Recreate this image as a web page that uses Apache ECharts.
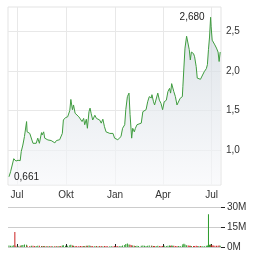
<!DOCTYPE html>
<html>
<head>
<meta charset="utf-8">
<script src="https://cdn.jsdelivr.net/npm/echarts@6/dist/echarts.min.js"></script>
<style>
  html, body { margin: 0; padding: 0; background: #fff; }
  #chart { width: 264px; height: 255px; }
</style>
</head>
<body>
<div id="chart"></div>
<script>
// price samples (EUR)
const dates = [
  '2024-06-16', '2024-06-19', '2024-06-22', '2024-06-25', '2024-06-27', '2024-06-29', '2024-07-03', '2024-07-07', '2024-07-09', '2024-07-12',
  '2024-07-15', '2024-07-19', '2024-07-20', '2024-07-25', '2024-07-28', '2024-07-31', '2024-08-03', '2024-08-06', '2024-08-09', '2024-08-12',
  '2024-08-16', '2024-08-17', '2024-08-20', '2024-08-22', '2024-08-25', '2024-08-28', '2024-08-31', '2024-09-03', '2024-09-06', '2024-09-10',
  '2024-09-13', '2024-09-16', '2024-09-19', '2024-09-21', '2024-09-24', '2024-09-26', '2024-09-30', '2024-10-04', '2024-10-08', '2024-10-10',
  '2024-10-13', '2024-10-15', '2024-10-18', '2024-10-21', '2024-10-25', '2024-10-28', '2024-10-31', '2024-11-03', '2024-11-05', '2024-11-08',
  '2024-11-10', '2024-11-13', '2024-11-15', '2024-11-17', '2024-11-20', '2024-11-24', '2024-11-27', '2024-11-30', '2024-12-03', '2024-12-06',
  '2024-12-09', '2024-12-12', '2024-12-15', '2024-12-18', '2024-12-22', '2024-12-25', '2024-12-28', '2024-12-31', '2025-01-03', '2025-01-06',
  '2025-01-09', '2025-01-12', '2025-01-15', '2025-01-19', '2025-01-21', '2025-01-24', '2025-01-27', '2025-01-29', '2025-02-01', '2025-02-03',
  '2025-02-06', '2025-02-08', '2025-02-11', '2025-02-14', '2025-02-19', '2025-02-22', '2025-02-25', '2025-02-28', '2025-03-03', '2025-03-06',
  '2025-03-10', '2025-03-11', '2025-03-14', '2025-03-16', '2025-03-19', '2025-03-22', '2025-03-25', '2025-03-28', '2025-03-31', '2025-04-03',
  '2025-04-07', '2025-04-10', '2025-04-13', '2025-04-15', '2025-04-17', '2025-04-19', '2025-04-21', '2025-04-24', '2025-04-27', '2025-04-30',
  '2025-05-03', '2025-05-07', '2025-05-08', '2025-05-10', '2025-05-12', '2025-05-15', '2025-05-18', '2025-05-20', '2025-05-22', '2025-05-24',
  '2025-05-28', '2025-05-30', '2025-06-02', '2025-06-04', '2025-06-07', '2025-06-10', '2025-06-13', '2025-06-17', '2025-06-21', '2025-06-23',
  '2025-06-25', '2025-06-27', '2025-06-29', '2025-06-30', '2025-07-02', '2025-07-04', '2025-07-07', '2025-07-10', '2025-07-13', '2025-07-15',
  '2025-07-17'
];
const prices = [
  0.661, 0.725, 0.747, 0.89, 0.865, 0.86, 0.87, 0.865, 0.98, 1.063,
  1.17, 1.36, 1.23, 1.21, 1.21, 1.085, 1.076, 1.085, 1.15, 1.085,
  1.22, 1.19, 1.23, 1.15, 1.17, 1.127, 1.13, 1.12, 1.13, 1.09,
  1.12, 1.11, 1.13, 1.11, 1.21, 1.38, 1.41, 1.42, 1.50, 1.64,
  1.51, 1.57, 1.465, 1.45, 1.42, 1.40, 1.36, 1.40, 1.32, 1.39,
  1.275, 1.485, 1.53, 1.465, 1.38, 1.44, 1.40, 1.42, 1.38, 1.34,
  1.39, 1.295, 1.23, 1.21, 1.21, 1.23, 1.21, 1.15, 1.14, 1.13,
  1.15, 1.17, 1.275, 1.32, 1.51, 1.675, 1.72, 1.45, 1.15, 1.275,
  1.23, 1.275, 1.32, 1.32, 1.34, 1.485, 1.51, 1.51, 1.61, 1.675,
  1.66, 1.70, 1.61, 1.57, 1.57, 1.72, 1.63, 1.59, 1.51, 1.61,
  1.63, 1.74, 1.78, 1.72, 1.84, 1.865, 1.74, 1.675, 1.57, 1.57,
  1.655, 1.675, 1.80, 2.05, 2.29, 2.44, 2.43, 2.27, 2.14, 2.24,
  2.22, 2.18, 2.055, 1.91, 1.91, 1.895, 1.92, 1.99, 2.03, 2.08,
  2.27, 2.43, 2.68, 2.56, 2.39, 2.37, 2.33, 2.29, 2.24, 2.12,
  2.24
];
// volume in millions, same dates
const volumes = [
  1.2, 0.9, 1.0, 1.4, 11.2, 1.0, 0.8, 0.9, 1.3, 1.5,
  1.8, 1.6, 1.0, 0.8, 0.9, 0.9, 0.7, 0.8, 0.9, 1.0,
  0.8, 0.7, 0.8, 0.7, 0.6, 0.7, 0.6, 0.7, 0.6, 0.7,
  0.6, 0.7, 0.6, 0.8, 1.2, 1.4, 1.0, 0.9, 1.3, 1.6,
  1.1, 0.9, 0.8, 0.7, 0.7, 0.8, 0.7, 0.8, 0.7, 0.9,
  1.0, 1.2, 0.9, 0.8, 0.7, 0.8, 0.7, 0.6, 0.7, 0.7,
  0.6, 0.7, 0.7, 0.6, 0.5, 0.6, 0.6, 0.7, 0.6, 0.7,
  0.6, 0.8, 1.2, 1.5, 2.2, 2.6, 1.8, 1.6, 1.4, 1.2,
  0.9, 0.8, 0.9, 0.8, 0.9, 1.2, 1.0, 0.8, 1.0, 1.1,
  0.9, 1.0, 0.8, 0.7, 0.8, 1.0, 0.8, 0.7, 0.8, 0.9,
  0.8, 1.0, 1.1, 0.9, 1.1, 1.0, 0.9, 0.8, 0.8, 0.7,
  0.8, 0.9, 2.0, 2.4, 1.8, 1.4, 1.1, 1.0, 0.9, 0.8,
  0.8, 0.8, 0.9, 0.8, 0.7, 0.7, 0.8, 0.8, 0.9, 1.1,
  24.6, 1.6, 1.9, 1.5, 1.2, 1.1, 1.0, 0.9, 1.0, 1.1,
  0.9
];
const tickDates = ['2024-07-01', '2024-10-01', '2025-01-01', '2025-04-01', '2025-07-01'];
const tickLabels = ['Jul', 'Okt', 'Jan', 'Apr', 'Jul'];
const priceTicks = [1.0, 1.5, 2.0, 2.5];

const up = '#2a9a2a';
const down = '#cc2222';
const font = 'Arial, "Liberation Sans", sans-serif';

const toTime = (d) => +echarts.time.parse(d);
const times = dates.map(toTime);
const tickTimes = tickDates.map(toTime);
const xMin = toTime('2024-06-14T04:00:00');
const xMax = toTime('2025-07-18T12:00:00');
const comma = (v, n) => v.toFixed(n).replace('.', ',');

const chart = echarts.init(document.getElementById('chart'));

chart.setOption({
  animation: false,
  textStyle: { fontFamily: font },
  grid: [
    { left: 8, right: 43, top: 7, height: 178, show: true, borderColor: '#e3e3e3', borderWidth: 1 },
    { left: 8, right: 43, top: 207, height: 40 },
  ],
  xAxis: [
    {
      type: 'value',
      gridIndex: 0,
      min: xMin,
      max: xMax,
      axisLine: { show: false },
      axisTick: { show: false, customValues: tickTimes },
      axisLabel: {
        customValues: tickTimes,
        formatter: (v) => tickLabels[tickTimes.indexOf(v)] || '',
        color: '#333',
        fontSize: 10,
        margin: 5,
      },
      splitLine: { show: true, lineStyle: { color: '#e8e8e8', width: 1 } },
    },
    {
      type: 'value',
      gridIndex: 1,
      min: xMin,
      max: xMax,
      position: 'top',
      axisLine: { show: false },
      axisTick: { show: true, length: 3, customValues: tickTimes, lineStyle: { color: '#222' } },
      axisLabel: { show: false },
      splitLine: { show: false },
    },
  ],
  yAxis: [
    {
      type: 'value',
      gridIndex: 0,
      position: 'right',
      min: 0.557,
      max: 2.81,
      axisLine: { show: false },
      axisTick: { show: false, customValues: priceTicks },
      axisLabel: {
        customValues: priceTicks,
        formatter: (v) => comma(v, 1),
        color: '#333',
        fontSize: 10,
        margin: 5,
      },
      splitLine: { show: true, lineStyle: { color: '#e8e8e8', width: 1 } },
    },
    {
      type: 'value',
      gridIndex: 1,
      position: 'right',
      min: 0,
      max: 30,
      interval: 15,
      axisLine: { show: false },
      axisTick: { show: true, length: 4, lineStyle: { color: '#222' } },
      axisLabel: {
        formatter: (v) => v + 'M',
        color: '#333',
        fontSize: 10,
        margin: 6,
      },
      splitLine: { show: true, lineStyle: { color: '#cccccc', width: 1 } },
    },
  ],
  series: [
    {
      type: 'line',
      xAxisIndex: 0,
      yAxisIndex: 0,
      data: times.map((t, i) => [t, prices[i]]),
      showSymbol: false,
      lineStyle: { color: '#3f9c3f', width: 1 },
      areaStyle: {
        color: new echarts.graphic.LinearGradient(0, 0, 0, 1, [
          { offset: 0, color: '#cdd5dd' },
          { offset: 1, color: '#f7f8fa' },
        ]),
      },
      markPoint: {
        symbol: 'circle',
        symbolSize: 0,
        data: [
          { type: 'max', label: { position: 'left', distance: 6 } },
          { type: 'min', label: { position: 'right', distance: 5 } },
        ],
        label: {
          formatter: (p) => comma(p.value, 3),
          color: '#222',
          fontSize: 10,
          fontFamily: font,
        },
      },
    },
    {
      type: 'bar',
      xAxisIndex: 1,
      yAxisIndex: 1,
      barWidth: 1,
      data: times.map((t, i) => ({
        value: [t, volumes[i]],
        itemStyle: { color: i > 0 && prices[i] < prices[i - 1] ? down : up },
      })),
    },
  ],
});
</script>
</body>
</html>
